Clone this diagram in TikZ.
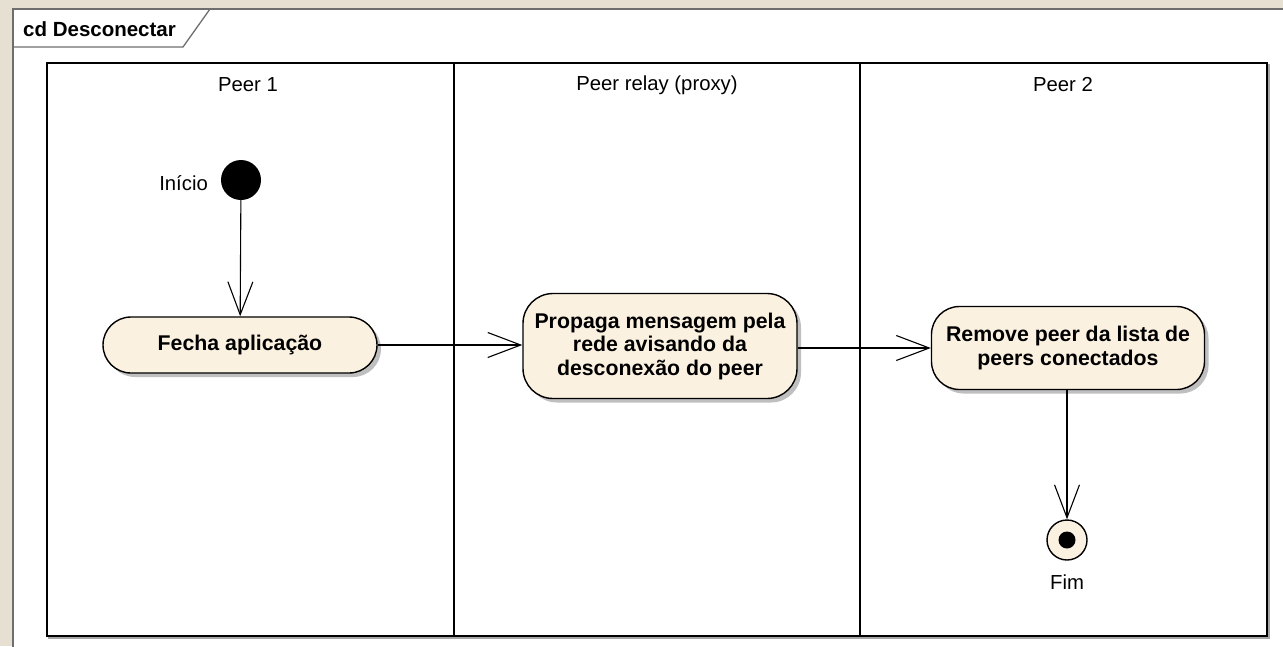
\documentclass[tikz,border=0pt]{standalone}
\usepackage{fontspec}
\setmainfont{Liberation Sans}
\usetikzlibrary{arrows.meta,shadows}
\definecolor{paper}{RGB}{230,224,210}
\definecolor{actfill}{RGB}{251,241,225}
\definecolor{framegray}{RGB}{110,110,110}
\tikzset{
  lbl/.style={font=\fontsize{20.3}{24}\selectfont, inner sep=0pt},
  actbox/.style={draw=black, line width=1.4pt, fill=actfill, align=center,
    inner sep=0pt, font=\bfseries\fontsize{21.3}{23.5}\selectfont,
    drop shadow={shadow xshift=4pt, shadow yshift=-4pt, fill=black!45, opacity=0.55}},
  flow/.style={line width=1.1pt, -{Straight Barb[length=33pt,width=25pt,line width=1.1pt]}},
  lane/.style={line width=1.8pt, draw=black}
}
\begin{document}
\begin{tikzpicture}[x=1pt,y=-1pt]
\useasboundingbox (0,0) rectangle (1283,646);
% paper background and diagram frame
\fill[paper] (0,0) rectangle (1283,646);
\fill[white] (13,9) rectangle (1290,652);
\draw[framegray, line width=1.3pt] (13,652) -- (13,9) -- (1290,9);
\draw[framegray, line width=1.3pt] (210,9) -- (183,47) -- (13,47);
\node[anchor=west, inner sep=0pt, font=\bfseries\fontsize{20.5}{22}\selectfont] (title) at (23,29) {cd Desconectar};

% swimlanes
\draw[black!35, line width=1.8pt] (49,65) rectangle (1269,638);
\draw[lane, fill=white] (47,63) rectangle (1267,636);
\draw[lane] (454,63) -- (454,636);
\draw[lane] (860,63) -- (860,636);
\node[lbl] (h1) at (248,85) {Peer 1};
\node[lbl] (h2) at (657,85) {Peer relay (proxy)};
\node[lbl] (h3) at (1063,85) {Peer 2};

% initial node
\node[circle, fill=black, minimum size=40pt, inner sep=0pt] (start) at (241,180) {};
\node[lbl, anchor=east] (startlbl) at (208,183) {Início};

% actions
\node[actbox, rounded corners=28pt, minimum width=274pt, minimum height=56pt] (fecha) at (240,345) {Fecha aplicação};
\node[actbox, rounded corners=30pt, minimum width=274pt, minimum height=105pt] (propaga) at (660,346) {Propaga mensagem pela\\rede avisando da\\desconexão do peer};
\node[actbox, rounded corners=28pt, minimum width=273pt, minimum height=83pt] (remove) at (1068,348) {Remove peer da lista de\\peers conectados};

% final node
\node[circle, draw=black, line width=1.4pt, fill=actfill, minimum size=40pt, inner sep=0pt] (fim) at (1067,540) {};
\fill[black] (fim.center) circle (8.5pt);
\node[lbl] (fimlbl) at (1067,582) {Fim};

% control flows
\draw[flow] (start) -- (fecha);
\draw[flow] (fecha.east) -- (propaga.west |- fecha.east);
\draw[flow] (propaga.east |- remove.west) -- (remove.west);
\draw[flow] (remove.south -| fim.north) -- (fim.north);
\end{tikzpicture}
\end{document}
